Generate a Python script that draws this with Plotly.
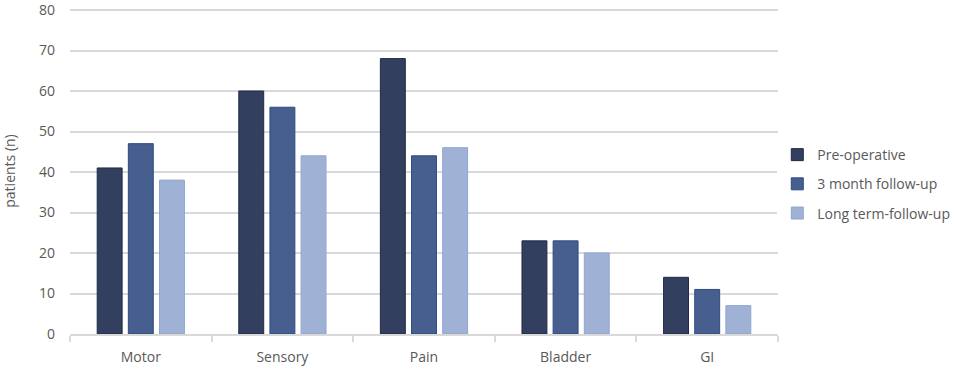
import plotly.graph_objects as go

categories = ["Motor", "Sensory", "Pain", "Bladder", "GI"]
pre_operative = [41, 60, 68, 23, 14]
three_month = [47, 56, 44, 23, 11]
long_term = [38, 44, 46, 20, 7]
series_names = ["Pre-operative", "3 month follow-up", "Long term-follow-up"]
y_ticks = [0, 10, 20, 30, 40, 50, 60, 70, 80]

fills = ["#333F5F", "#475F8F", "#9FB2D6"]
edges = ["#1F2A45", "#2F4A80", "#8FA5CF"]

fig = go.Figure()
for i, (name, vals, c, e) in enumerate(zip(series_names, [pre_operative, three_month, long_term], fills, edges)):
    fig.add_trace(go.Bar(x=categories, y=vals, name=name, legendgroup=f"g{i}",
                         marker=dict(color=c, line=dict(color=e, width=1))))

fig.update_layout(
    width=957, height=367,
    margin=dict(l=70, r=179, t=8, b=33, autoexpand=False),
    barmode="group", bargap=0.34, bargroupgap=0.2,
    plot_bgcolor="white", paper_bgcolor="white",
    font=dict(family="Open Sans", size=14, color="#595959"),
    legend=dict(x=0.999, y=0.46, xanchor="left", yanchor="middle",
                font=dict(size=14, color="#595959"), tracegroupgap=8,
                itemwidth=30),
    showlegend=True,
)
fig.update_yaxes(range=[0, 80.5], tickvals=y_ticks, showgrid=True,
                 gridcolor="#D9D9D9", gridwidth=1.5, zeroline=False,
                 showline=False, ticks="", ticklabelstandoff=14,
                 ticklabeloverflow="allow",
                 title=dict(text="patients (n)", standoff=20, font=dict(size=14)))
fig.update_xaxes(showline=True, linecolor="#D9D9D9", linewidth=1.5,
                 ticks="outside", tickson="boundaries", ticklen=6,
                 tickcolor="#D9D9D9", tickwidth=1.5, ticklabelstandoff=9)

fig.write_html("out.html", config={"displayModeBar": False},
               post_script="document.body.style.margin='0';")
